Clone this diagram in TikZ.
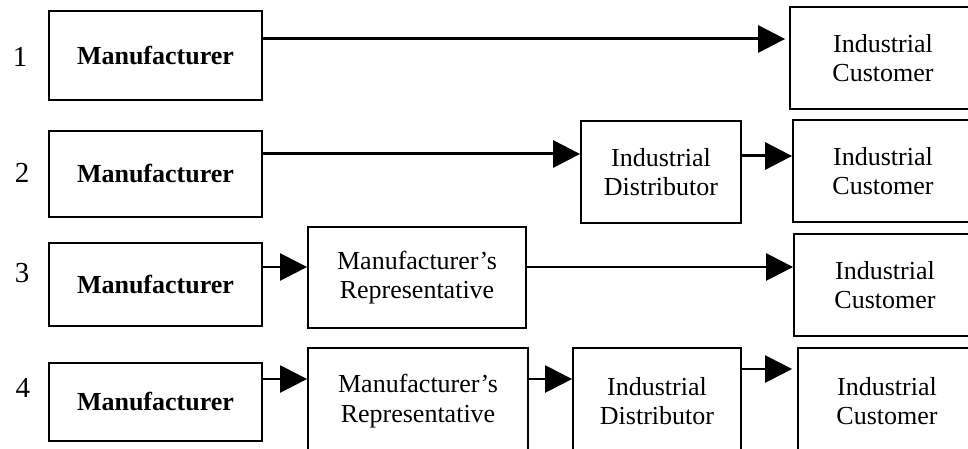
\documentclass[tikz,border=0pt]{standalone}
\usepackage{fontspec}
\setmainfont{Liberation Serif}
\usetikzlibrary{arrows.meta}
\tikzset{
  box/.style={draw, line width=1.8pt, inner sep=0pt, align=center, font=\fontsize{26}{29.5}\selectfont},
  mbox/.style={box, font=\fontsize{26}{29.5}\selectfont\bfseries, minimum width=213pt},
  arr/.style={-{Triangle[length=27pt,width=27pt]}, line width=3pt},
  thinarr/.style={arr, line width=2.5pt},
  num/.style={font=\fontsize{29}{32}\selectfont, inner sep=0pt}
}
\begin{document}
\begin{tikzpicture}[x=1pt,y=-1pt]
\useasboundingbox (0,0) rectangle (968,449);
\clip (0,0) rectangle (968,449);
% row numbers
\node[num] (n1) at (20,57) {1};
\node[num] (n2) at (22,173) {2};
\node[num] (n3) at (22,273) {3};
\node[num] (n4) at (23,388) {4};
% row 1
\node[mbox, minimum height=89pt] (m1) at (155.5,55.5) {Manufacturer};
\node[box, minimum width=186pt, minimum height=102pt] (c1) at (883,58) {Industrial\\Customer};
% row 2
\node[mbox, minimum height=86pt] (m2) at (155.5,174) {Manufacturer};
\node[box, minimum width=160pt, minimum height=102pt] (d2) at (661,172) {Industrial\\Distributor};
\node[box, minimum width=180pt, minimum height=102pt] (c2) at (883,171) {Industrial\\Customer};
% row 3
\node[mbox, minimum height=83pt] (m3) at (155.5,284.5) {Manufacturer};
\node[box, minimum width=218pt, minimum height=101pt] (r3) at (417,277.5) {Manufacturer’s\\Representative};
\node[box, minimum width=182pt, minimum height=102pt] (c3) at (885,285) {Industrial\\Customer};
% row 4
\node[mbox, minimum height=78pt] (m4) at (155.5,402) {Manufacturer};
\node[box, minimum width=220pt, minimum height=106pt] (r4) at (418,401) {Manufacturer’s\\Representative};
\node[box, minimum width=168pt, minimum height=106pt] (d4) at (657,401) {Industrial\\Distributor};
\node[box, minimum width=178pt, minimum height=106pt] (c4) at (887,401) {Industrial\\Customer};
% connector heights
\coordinate (y1) at (0,39);
\coordinate (y2a) at (0,154);
\coordinate (y2b) at (0,156);
\coordinate (y3) at (0,267);
\coordinate (y4a) at (0,379);
\coordinate (y4b) at (0,369);
% connectors
\draw[arr, shorten >=4pt] (m1.east |- y1) -- (c1.west |- y1);
\draw[arr] (m2.east |- y2a) -- (d2.west |- y2a);
\draw[arr] (d2.east |- y2b) -- (c2.west |- y2b);
\draw[thinarr] (m3.east |- y3) -- (r3.west |- y3);
\draw[thinarr] (r3.east |- y3) -- (c3.west |- y3);
\draw[thinarr] (m4.east |- y4a) -- (r4.west |- y4a);
\draw[thinarr] (r4.east |- y4a) -- (d4.west |- y4a);
\draw[thinarr, shorten >=5pt] (d4.east |- y4b) -- (c4.west |- y4b);
\end{tikzpicture}
\end{document}
